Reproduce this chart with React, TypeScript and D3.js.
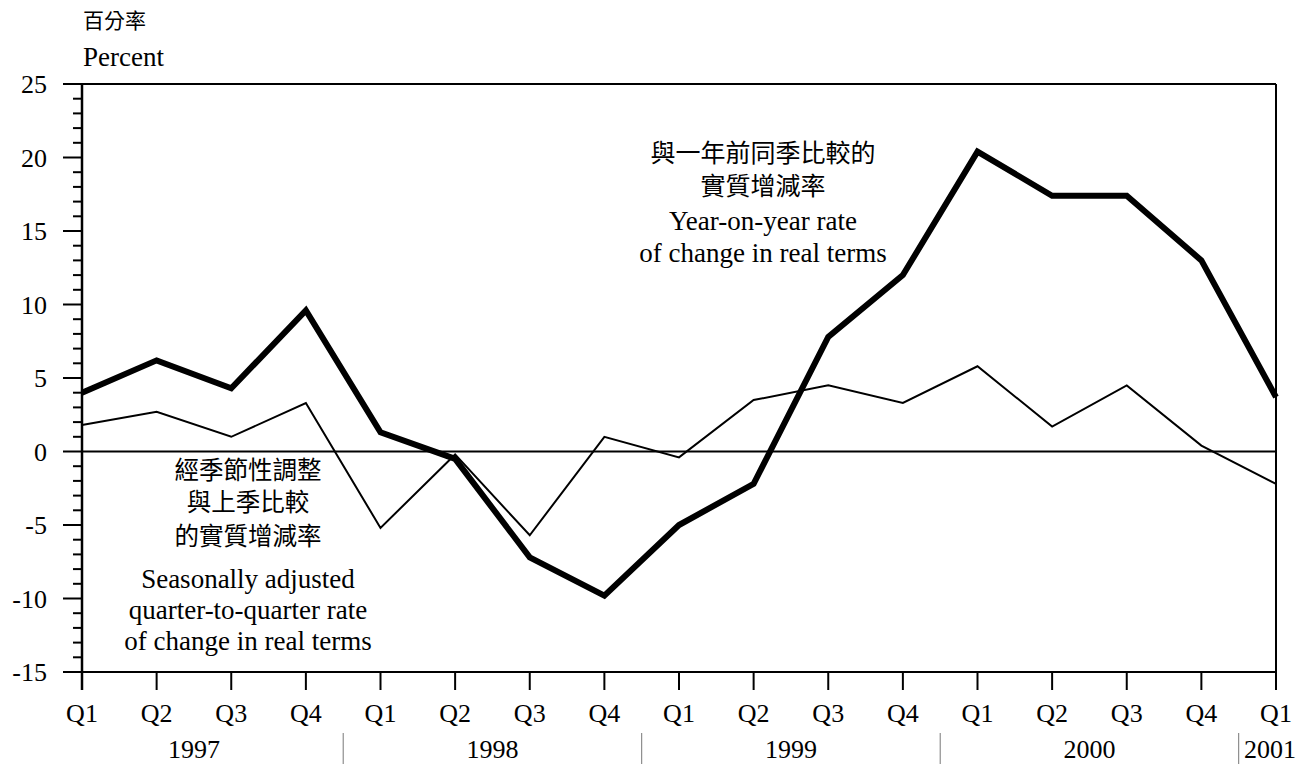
import React from 'react';
import * as d3 from 'd3';

// Quarter labels along the x axis, Q1 1997 to Q1 2001
const quarters = ['Q1', 'Q2', 'Q3', 'Q4', 'Q1', 'Q2', 'Q3', 'Q4', 'Q1', 'Q2', 'Q3', 'Q4', 'Q1', 'Q2', 'Q3', 'Q4', 'Q1'];
const years = ['1997', '1998', '1999', '2000', '2001'];

// Year-on-year rate of change in real terms (thick line)
const yoyRate = [4.0, 6.2, 4.3, 9.6, 1.3, -0.5, -7.2, -9.8, -5.0, -2.2, 7.8, 12.0, 20.4, 17.4, 17.4, 13.0, 3.7];
// Seasonally adjusted quarter-to-quarter rate (thin line)
const qoqRate = [1.8, 2.7, 1.0, 3.3, -5.2, -0.2, -5.7, 1.0, -0.4, 3.5, 4.5, 3.3, 5.8, 1.7, 4.5, 0.4, -2.2];

const yTicks = [25, 20, 15, 10, 5, 0, -5, -10, -15];

const serif = '"Liberation Serif", "Times New Roman", serif';
const cjk = '"Noto Sans CJK TC", sans-serif';

const App: React.FC = () => {
  const width = 1315;
  const height = 771;
  const left = 82;
  const right = 1276;
  const top = 84;
  const bottom = 672;

  const x = d3.scaleLinear().domain([0, quarters.length - 1]).range([left, right]);
  const y = d3.scaleLinear().domain([-15, 25]).range([bottom, top]);

  const line = d3.line<number>()
    .x((_, i) => x(i))
    .y(d => y(d));

  const minorTicks = d3.range(-15, 26, 1);

  return (
    <svg
      width={width}
      height={height}
      style={{ position: 'absolute', left: 0, top: 0, background: '#fff' }}
    >
      {/* axis titles */}
      <text x={83} y={28} fontFamily={cjk} fontSize={21} fill="#000">百分率</text>
      <text x={83} y={66} fontFamily={serif} fontSize={27} fill="#000">Percent</text>

      {/* frame */}
      <line x1={63} x2={right} y1={top} y2={top} stroke="#000" strokeWidth={2} />
      <line x1={right} x2={right} y1={top} y2={bottom + 18} stroke="#000" strokeWidth={2} />
      <line x1={63} x2={right} y1={bottom} y2={bottom} stroke="#000" strokeWidth={2} />
      <line x1={left} x2={left} y1={top} y2={bottom + 18} stroke="#000" strokeWidth={2.5} />

      {/* y ticks */}
      {minorTicks.map(v => (
        <line key={`m${v}`} x1={v % 5 === 0 ? 63 : 73} x2={left} y1={y(v)} y2={y(v)} stroke="#000" strokeWidth={2} />
      ))}
      {yTicks.map(v => (
        <text key={`t${v}`} x={47} y={y(v) + 9} textAnchor="end" fontFamily={serif} fontSize={26} fill="#000">
          {v < 0 ? `-${Math.abs(v)}` : v}
        </text>
      ))}

      {/* x ticks */}
      {quarters.map((q, i) => (
        <g key={`q${i}`}>
          <line x1={x(i)} x2={x(i)} y1={bottom} y2={bottom + 18} stroke="#000" strokeWidth={2} />
          <text x={x(i)} y={722} textAnchor="middle" fontFamily={serif} fontSize={26} fill="#000">{q}</text>
        </g>
      ))}

      {/* year labels and separators */}
      {years.map((yr, k) => {
        const cx = k < 4 ? x(k * 4 + 1.5) : x(16) - 6;
        return (
          <text key={yr} x={cx} y={758} textAnchor="middle" fontFamily={serif} fontSize={26} fill="#000">{yr}</text>
        );
      })}
      {years.slice(1).map((yr, k) => (
        <line key={`s${yr}`} x1={x((k + 1) * 4 - 0.5)} x2={x((k + 1) * 4 - 0.5)} y1={733} y2={764} stroke="#777" strokeWidth={1} />
      ))}

      {/* zero line */}
      <line x1={left} x2={right} y1={y(0)} y2={y(0)} stroke="#000" strokeWidth={2} />

      {/* series */}
      <path d={line(qoqRate) ?? ''} fill="none" stroke="#000" strokeWidth={2} strokeLinejoin="miter" />
      <path d={line(yoyRate) ?? ''} fill="none" stroke="#000" strokeWidth={6} strokeLinejoin="miter" />

      {/* annotation: year-on-year */}
      <g textAnchor="middle" fill="#000">
        <text x={763} y={162} fontFamily={cjk} fontSize={25}>與一年前同季比較的</text>
        <text x={763} y={195} fontFamily={cjk} fontSize={25}>實質增減率</text>
        <text x={763} y={230} fontFamily={serif} fontSize={27}>Year-on-year rate</text>
        <text x={763} y={262} fontFamily={serif} fontSize={27}>of change in real terms</text>
      </g>

      {/* annotation: quarter-to-quarter */}
      <g textAnchor="middle" fill="#000">
        <text x={248} y={479} fontFamily={cjk} fontSize={24.5}>經季節性調整</text>
        <text x={248} y={511} fontFamily={cjk} fontSize={24.5}>與上季比較</text>
        <text x={248} y={545} fontFamily={cjk} fontSize={24.5}>的實質增減率</text>
        <text x={248} y={588} fontFamily={serif} fontSize={27}>Seasonally adjusted</text>
        <text x={248} y={619} fontFamily={serif} fontSize={27}>quarter-to-quarter rate</text>
        <text x={248} y={650} fontFamily={serif} fontSize={27}>of change in real terms</text>
      </g>
    </svg>
  );
};

export default App;
